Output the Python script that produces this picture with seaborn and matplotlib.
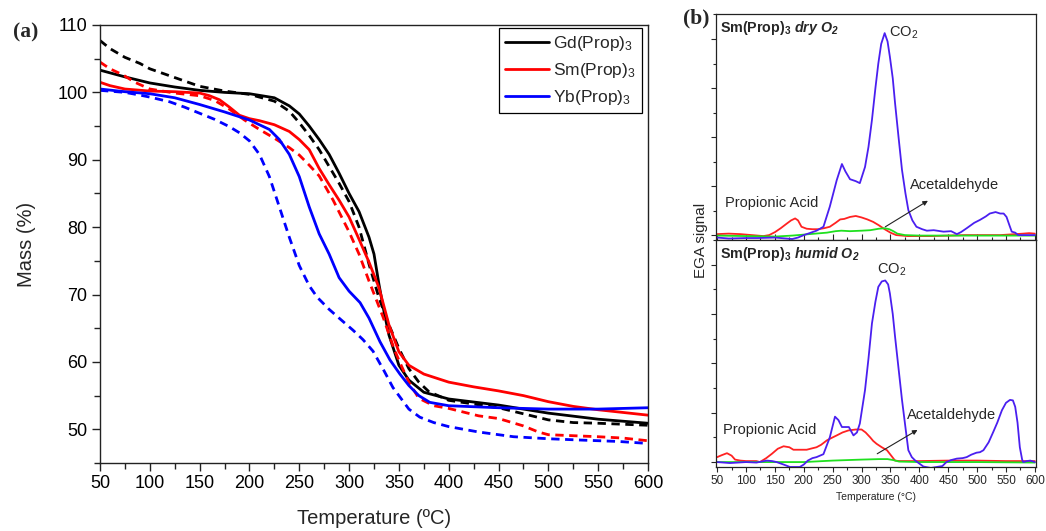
import numpy as np
import pandas as pd
import matplotlib
matplotlib.use("Agg")
import matplotlib.pyplot as plt
import seaborn as sns
from matplotlib.ticker import MultipleLocator, NullFormatter
from matplotlib.lines import Line2D

# ---------------- Panel (a): TGA mass curves ----------------
gd_solid_T = [50, 75, 100, 125, 150, 175, 200, 225, 240, 250, 260, 270, 280, 290, 300, 310, 320, 325, 330, 335, 340, 350, 360, 375, 400, 450, 500, 550, 600]
gd_solid_m = [103.3, 102.3, 101.4, 100.8, 100.3, 100.0, 99.8, 99.2, 98.0, 96.8, 95.0, 93.0, 90.8, 88.0, 85.0, 82.3, 78.5, 76.0, 71.5, 67.5, 64.0, 59.5, 57.3, 55.5, 54.5, 53.6, 52.4, 51.5, 50.9]

gd_dash_T = [50, 60, 75, 90, 100, 125, 150, 175, 200, 225, 240, 250, 260, 270, 280, 290, 300, 310, 320, 330, 340, 350, 360, 370, 380, 400, 450, 475, 500, 525, 550, 600]
gd_dash_m = [107.7, 106.5, 105.2, 104.3, 103.5, 102.2, 100.9, 100.2, 99.7, 98.7, 97.2, 95.5, 93.6, 91.5, 89.0, 86.5, 83.8, 80.0, 74.5, 69.5, 65.5, 62.0, 59.0, 57.0, 55.6, 54.3, 53.2, 52.3, 51.4, 51.0, 50.9, 50.6]

sm_solid_T = [50, 60, 75, 100, 125, 150, 160, 170, 180, 190, 200, 210, 225, 240, 250, 260, 270, 280, 290, 300, 310, 320, 330, 340, 350, 360, 375, 400, 425, 450, 475, 500, 525, 550, 575, 600]
sm_solid_m = [101.5, 101.0, 100.5, 100.2, 100.1, 99.9, 99.5, 98.9, 97.8, 96.6, 96.1, 95.8, 95.2, 94.2, 93.0, 91.5, 88.7, 86.3, 84.0, 81.5, 78.2, 74.8, 71.0, 65.5, 61.5, 59.5, 58.2, 57.0, 56.3, 55.7, 55.0, 54.1, 53.4, 52.9, 52.5, 52.1]

sm_dash_T = [50, 60, 73, 85, 100, 125, 150, 165, 180, 195, 210, 225, 240, 250, 260, 270, 284, 300, 310, 320, 334, 345, 351, 360, 370, 385, 400, 430, 450, 475, 490, 500, 550, 575, 600]
sm_dash_m = [104.5, 103.5, 102.6, 101.5, 100.5, 99.9, 99.5, 98.8, 97.5, 95.9, 94.5, 93.2, 91.8, 90.7, 89.2, 87.6, 84.0, 79.3, 76.0, 72.0, 66.7, 62.0, 59.9, 57.0, 54.6, 53.5, 53.1, 52.0, 51.6, 50.5, 49.6, 49.2, 48.9, 48.7, 48.3]

yb_solid_T = [50, 75, 100, 125, 150, 175, 200, 220, 230, 240, 250, 260, 270, 280, 290, 300, 311, 320, 331, 341, 351, 360, 370, 381, 400, 450, 500, 550, 600]
yb_solid_m = [100.5, 100.1, 99.8, 99.2, 98.2, 97.1, 95.9, 94.5, 93.0, 90.8, 87.5, 83.0, 79.0, 76.0, 72.5, 70.5, 68.8, 66.5, 63.0, 60.3, 58.2, 56.5, 55.0, 54.0, 53.5, 53.2, 53.0, 53.0, 53.2]

yb_dash_T = [50, 75, 90, 100, 120, 135, 150, 165, 180, 190, 200, 210, 220, 230, 240, 250, 260, 268, 280, 290, 304, 314, 324, 335, 344, 351, 360, 371, 385, 400, 430, 465, 500, 533, 570, 600]
yb_dash_m = [100.3, 100.0, 99.6, 99.3, 98.6, 97.8, 96.9, 96.0, 94.9, 94.0, 92.8, 90.8, 87.5, 83.0, 78.5, 74.3, 71.3, 69.6, 67.8, 66.5, 64.7, 63.3, 61.6, 58.7, 56.2, 54.8, 53.0, 51.8, 51.0, 50.4, 49.6, 48.9, 48.6, 48.4, 48.2, 47.9]

legend_labels = ["Gd(Prop)$_3$", "Sm(Prop)$_3$", "Yb(Prop)$_3$"]

# ---------------- Panel (b): EGA signals ----------------
dry_co2_T = [50, 70, 100, 120, 150, 180, 190, 200, 210, 222, 234, 245, 257, 266, 272, 280, 290, 297, 306, 312, 318, 324, 329, 334, 340, 345, 349, 354, 358, 364, 370, 376, 381, 388, 395, 405, 413, 425, 442, 455, 465, 472, 482, 495, 505, 515, 522, 532, 540, 546, 551, 556, 560, 566, 571, 585, 600]
dry_co2_v = [-0.05, -0.07, -0.06, -0.06, -0.05, -0.08, -0.05, 0.0, 0.04, 0.09, 0.17, 0.58, 1.12, 1.45, 1.3, 1.14, 1.1, 1.06, 1.39, 1.8, 2.35, 3.0, 3.5, 3.9, 4.12, 3.95, 3.64, 3.2, 2.69, 2.0, 1.33, 0.85, 0.51, 0.3, 0.17, 0.12, 0.09, 0.1, 0.07, 0.08, 0.02, 0.06, 0.14, 0.25, 0.31, 0.38, 0.44, 0.47, 0.44, 0.44, 0.37, 0.2, 0.07, 0.05, 0.0, 0.0, 0.0]

dry_acid_T = [50, 70, 90, 110, 130, 140, 150, 160, 170, 178, 185, 190, 196, 205, 215, 225, 235, 245, 255, 263, 270, 280, 290, 300, 310, 320, 330, 340, 350, 360, 380, 420, 480, 540, 580, 590, 600]
dry_acid_v = [0.02, 0.03, 0.02, 0.0, -0.02, 0.0, 0.06, 0.14, 0.23, 0.3, 0.34, 0.3, 0.17, 0.13, 0.12, 0.12, 0.14, 0.17, 0.25, 0.32, 0.33, 0.37, 0.39, 0.36, 0.32, 0.27, 0.2, 0.12, 0.05, 0.0, -0.02, -0.02, 0.0, 0.0, 0.03, 0.04, 0.03]

dry_ald_T = [50, 100, 150, 180, 200, 220, 240, 255, 265, 280, 300, 315, 330, 340, 348, 355, 362, 375, 400, 500, 600]
dry_ald_v = [-0.01, -0.02, -0.03, -0.01, 0.01, 0.03, 0.05, 0.08, 0.09, 0.08, 0.09, 0.1, 0.13, 0.14, 0.12, 0.08, 0.03, 0.0, -0.01, -0.01, -0.01]

hum_co2_T = [50, 72, 100, 118, 136, 145, 153, 165, 176, 193, 200, 207, 215, 222, 234, 245, 254, 260, 266, 278, 286, 292, 297, 306, 312, 318, 324, 329, 335, 341, 346, 349, 354, 358, 364, 370, 376, 381, 387, 393, 407, 420, 430, 440, 447, 455, 465, 475, 482, 490, 499, 505, 511, 520, 528, 535, 543, 550, 557, 562, 566, 570, 574, 578, 580, 586, 592, 600]
hum_co2_v = [0.0, -0.02, 0.0, -0.01, 0.03, 0.02, 0.0, -0.05, -0.1, -0.1, -0.05, 0.03, 0.08, 0.1, 0.16, 0.5, 0.92, 0.85, 0.71, 0.71, 0.54, 0.6, 0.78, 1.46, 2.1, 2.81, 3.25, 3.55, 3.66, 3.68, 3.6, 3.42, 3.0, 2.54, 1.9, 1.26, 0.7, 0.24, 0.1, 0.03, -0.09, -0.12, -0.1, -0.08, 0.0, 0.04, 0.07, 0.08, 0.1, 0.15, 0.19, 0.2, 0.24, 0.4, 0.61, 0.8, 1.05, 1.2, 1.26, 1.25, 1.12, 0.8, 0.3, 0.05, 0.0, 0.02, 0.03, 0.0]

hum_acid_T = [50, 58, 67, 75, 81, 90, 100, 110, 118, 124, 135, 145, 155, 165, 175, 182, 195, 205, 215, 222, 230, 240, 250, 257, 267, 277, 290, 300, 307, 315, 320, 326, 335, 344, 352, 358, 365, 400, 450, 500, 550, 600]
hum_acid_v = [0.1, 0.14, 0.18, 0.13, 0.05, 0.03, 0.02, 0.02, 0.02, 0.0, 0.08, 0.17, 0.27, 0.32, 0.3, 0.25, 0.25, 0.25, 0.28, 0.3, 0.35, 0.44, 0.5, 0.54, 0.6, 0.64, 0.66, 0.66, 0.6, 0.5, 0.43, 0.37, 0.3, 0.24, 0.12, 0.03, 0.02, 0.02, 0.03, 0.03, 0.02, 0.02]

hum_ald_T = [50, 100, 150, 200, 250, 300, 330, 345, 355, 365, 400, 500, 600]
hum_ald_v = [0.0, 0.0, 0.0, 0.0, 0.03, 0.05, 0.06, 0.06, 0.04, 0.01, 0.0, 0.0, -0.01]

# ---------------- style ----------------
sns.set_style("ticks")
plt.rcParams["font.family"] = ["Liberation Sans", "DejaVu Sans"]
plt.rcParams["mathtext.fontset"] = "custom"
plt.rcParams["mathtext.rm"] = "Liberation Sans"
plt.rcParams["mathtext.it"] = "Liberation Sans:italic"
plt.rcParams["mathtext.bf"] = "Liberation Sans:bold"
plt.rcParams["mathtext.bfit"] = "Liberation Sans:italic:bold"
plt.rcParams["axes.edgecolor"] = "#222222"
plt.rcParams["axes.linewidth"] = 1.0

fig = plt.figure(figsize=(10.46, 5.31), dpi=100)

# ---- panel (a) ----
axA = fig.add_axes([100 / 1046, 1 - 463 / 531, 548 / 1046, 438 / 531])
colsA = ["#000000", "#ff0000", "#0000ff"]
series = [(gd_solid_T, gd_solid_m, gd_dash_T, gd_dash_m),
          (sm_solid_T, sm_solid_m, sm_dash_T, sm_dash_m),
          (yb_solid_T, yb_solid_m, yb_dash_T, yb_dash_m)]
for (sT, sm, dT, dm), c in zip(series, colsA):
    sns.lineplot(x=dT, y=dm, ax=axA, color=c, lw=2.0, linestyle=(0, (3, 2)), legend=False, sort=True)
    sns.lineplot(x=sT, y=sm, ax=axA, color=c, lw=2.0, legend=False, sort=True)

axA.set_xlim(50, 600)
axA.set_ylim(45, 110)
axA.xaxis.set_major_locator(MultipleLocator(50))
axA.xaxis.set_minor_locator(MultipleLocator(25))
axA.yaxis.set_major_locator(MultipleLocator(10))
axA.yaxis.set_minor_locator(MultipleLocator(5))
axA.tick_params(which="major", direction="out", length=6, width=1.0, labelsize=13, pad=3, colors="#222222", labelcolor="black")
axA.tick_params(which="minor", direction="out", length=4, width=1.0, colors="#222222")
axA.set_xlabel("Temperature (ºC)", fontsize=14.5, labelpad=12)
axA.set_ylabel("Mass (%)", fontsize=14.5, labelpad=15)
for s in axA.spines.values():
    s.set_visible(True)

handles = [Line2D([], [], color=c, lw=2.0) for c in colsA]
leg = axA.legend(handles, legend_labels, loc="upper right", bbox_to_anchor=(642 / 1046, 1 - 28 / 531),
                 bbox_transform=fig.transFigure, fontsize=12.5, frameon=True, fancybox=False,
                 edgecolor="black", framealpha=1, handlelength=2.5, handletextpad=0.25,
                 labelspacing=0.45, borderpad=0.35, borderaxespad=0)
leg.get_frame().set_linewidth(0.9)

fig.text(26 / 1046, 1 - 32 / 531, "(a)", fontsize=15.5, fontweight="bold",
         family="Liberation Serif", ha="center", va="center")

# ---- panel (b) ----
x0, w = 716 / 1046, 320 / 1046
axT = fig.add_axes([x0, 1 - 240 / 531, w, 226 / 531])
axB = fig.add_axes([x0, 1 - 467 / 531, w, 227 / 531])

c_co2, c_acid, c_ald = "#4a1ff0", "#ff2222", "#1fe01f"
lwB = 1.3
for ax, (cT, cv, aT, av, gT, gv) in [
        (axT, (dry_co2_T, dry_co2_v, dry_acid_T, dry_acid_v, dry_ald_T, dry_ald_v)),
        (axB, (hum_co2_T, hum_co2_v, hum_acid_T, hum_acid_v, hum_ald_T, hum_ald_v))]:
    sns.lineplot(x=aT, y=av, ax=ax, color=c_acid, lw=lwB, legend=False)
    sns.lineplot(x=gT, y=gv, ax=ax, color=c_ald, lw=lwB, legend=False)
    sns.lineplot(x=cT, y=cv, ax=ax, color=c_co2, lw=lwB, legend=False)
    ax.set_xlim(48, 602)
    ax.xaxis.set_major_locator(MultipleLocator(50))
    ax.xaxis.set_minor_locator(MultipleLocator(25))
    ax.yaxis.set_major_locator(MultipleLocator(1))
    ax.yaxis.set_minor_locator(MultipleLocator(0.5))
    ax.yaxis.set_major_formatter(NullFormatter())
    ax.set_ylabel("")
    for s in ax.spines.values():
        s.set_visible(True)
        s.set_linewidth(0.9)

axT.set_ylim(-0.1, 4.51)
axB.set_ylim(-0.1, 4.5)
axT.xaxis.set_major_formatter(NullFormatter())
axT.tick_params(axis="x", which="major", direction="in", length=4, width=0.8)
axT.tick_params(axis="x", which="minor", direction="in", length=2.5, width=0.8)
for ax in (axT, axB):
    ax.tick_params(axis="y", which="major", direction="out", length=3.5, width=0.8)
    ax.tick_params(axis="y", which="minor", direction="out", length=2, width=0.8)
axB.tick_params(axis="x", which="major", direction="out", length=3.5, width=0.8, labelsize=8.5, pad=2)
axB.tick_params(axis="x", which="minor", direction="out", length=2, width=0.8)
axB.set_xlabel("Temperature (°C)", fontsize=7.5, labelpad=4)

fs_ann = 10.5
# annotations top
axT.text(55, 4.22, r"$\mathbf{Sm(Prop)_3}$ $\mathbfit{dry\ O_2}$", fontsize=10.3, ha="left", va="center")
axT.text(348, 4.12, "CO$_2$", fontsize=fs_ann, ha="left", va="center")
axT.text(64, 0.65, "Propionic Acid", fontsize=fs_ann, ha="left", va="center")
axT.text(384, 1.02, "Acetaldehyde", fontsize=fs_ann, ha="left", va="center")
axT.annotate("", xy=(419, 0.73), xytext=(337, 0.14),
             arrowprops=dict(arrowstyle="-|>", color="#222222", lw=0.8, mutation_scale=7))
# annotations bottom
axB.text(55, 4.22, r"$\mathbf{Sm(Prop)_3}$ $\mathbfit{humid\ O_2}$", fontsize=10.3, ha="left", va="center")
axB.text(327, 3.9, "CO$_2$", fontsize=fs_ann, ha="left", va="center")
axB.text(60, 0.65, "Propionic Acid", fontsize=fs_ann, ha="left", va="center")
axB.text(379, 0.95, "Acetaldehyde", fontsize=fs_ann, ha="left", va="center")
axB.annotate("", xy=(401, 0.68), xytext=(323, 0.14),
             arrowprops=dict(arrowstyle="-|>", color="#222222", lw=0.8, mutation_scale=7))

fig.text(701 / 1046, 1 - 240 / 531, "EGA signal", rotation=90, fontsize=11, ha="center", va="center")
fig.text(696 / 1046, 1 - 18 / 531, "(b)", fontsize=15.5, fontweight="bold",
         family="Liberation Serif", ha="center", va="center")

fig.savefig("out.png", dpi=100)
